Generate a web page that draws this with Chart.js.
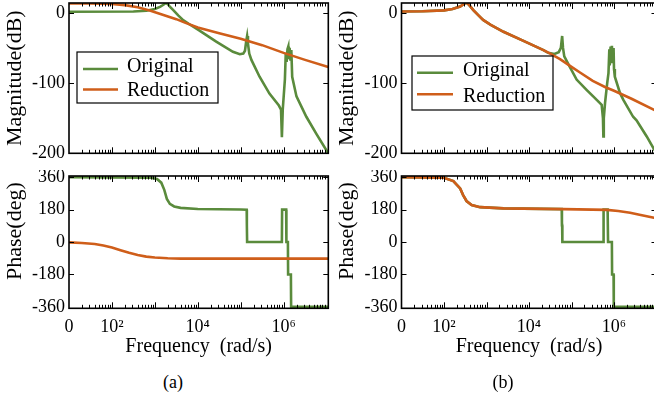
<!DOCTYPE html>
<html>
<head>
<meta charset="utf-8">
<script src="https://cdn.jsdelivr.net/npm/chart.js@4.4.1/dist/chart.umd.min.js"></script>
<style>
  body { margin: 0; width: 654px; height: 398px; overflow: hidden; background: #fff; position: relative; }
  canvas { position: absolute; }
  .cap { position: absolute; top: 372px; font: 18px "Liberation Serif"; color: #000; transform: translateX(-50%); }
</style>
</head>
<body>
<canvas id="aMag" width="335" height="160" style="left:0;top:0"></canvas>
<canvas id="aPh" width="335" height="195" style="left:0;top:170px"></canvas>
<canvas id="bMag" width="330" height="160" style="left:332px;top:0"></canvas>
<canvas id="bPh" width="330" height="195" style="left:332px;top:170px"></canvas>
<div class="cap" style="left:173px">(a)</div>
<div class="cap" style="left:503px">(b)</div>
<script>
const FONT = '"Liberation Serif", serif'
const GREEN = '#5a8b3c'
const ORANGE = '#cf5e1a'

const seriesNames = ['Original', 'Reduction']
const xTickValues = [1e1, 1e2, 1e4, 1e6]
const xTickLabels = ['0', '10²', '10⁴', '10⁶']
const magTicks = [0, -100, -200]
const phaseTicks = [360, 180, 0, -180, -360]

// points are [log10(omega), value]
const aOrigMag = [[1.0, 1.5], [2.5, 2], [2.8, 3], [3.0, 5.5], [3.12, 8.5], [3.2, 11.5], [3.26, 14], [3.3, 12.5],
  [3.36, 8], [3.43, 3.8], [3.55, -4], [3.66, -10.4], [3.85, -18], [4.05, -25.6], [4.43, -41], [4.82, -55.5],
  [4.98, -59], [5.06, -58], [5.1, -54], [5.13, -40], [5.15, -33], [5.17, -44], [5.2, -58], [5.25, -67],
  [5.44, -91], [5.67, -115], [5.89, -132], [5.94, -138], [5.96, -177], [5.98, -138], [6.03, -95], [6.05, -58],
  [6.07, -70], [6.09, -52], [6.11, -48], [6.12, -66], [6.14, -50], [6.16, -68], [6.18, -53], [6.2, -91],
  [6.3, -119], [6.53, -148], [6.76, -172], [7.04, -200]]
const aRedMag = [[1.0, 13.5], [1.5, 13.3], [2.0, 12.5], [2.3, 11], [2.6, 8], [2.9, 3], [3.2, -3], [3.5, -9],
  [3.7, -14], [4.0, -21], [4.5, -29], [5.0, -37], [5.5, -46], [6.0, -57], [6.5, -67], [7.04, -77]]
const aOrigPh = [[1.0, 360], [2.9, 358], [3.05, 350], [3.15, 330], [3.22, 290], [3.28, 240], [3.35, 212],
  [3.45, 198], [3.6, 190], [4.0, 184], [5.0, 181], [5.14, 180], [5.142, 94], [5.146, 94], [5.15, 0],
  [5.96, 0], [5.965, 180], [6.06, 180], [6.065, 0], [6.1, 0], [6.105, -180], [6.17, -180], [6.175, -360],
  [7.04, -360]]
const aRedPh = [[1.0, -2], [1.3, -5], [1.6, -11], [1.8, -19], [2.0, -30], [2.2, -45], [2.4, -60], [2.6, -72],
  [2.8, -81], [3.0, -86], [3.3, -90], [3.6, -92], [7.04, -92]]

const bOrigMag = [[1.0, 2], [1.5, 2.2], [2.0, 3.5], [2.2, 5.5], [2.38, 9], [2.48, 13], [2.53, 14.5], [2.58, 12],
  [2.69, 4], [2.8, -3], [2.92, -10], [3.1, -17], [3.4, -27], [3.87, -40], [4.34, -53], [4.45, -57],
  [4.6, -58.5], [4.7, -56], [4.75, -50], [4.78, -33], [4.8, -50], [4.83, -62], [4.96, -77], [5.12, -95],
  [5.36, -110], [5.51, -119], [5.71, -131], [5.74, -150], [5.75, -176], [5.76, -150], [5.79, -128],
  [5.84, -100], [5.87, -86], [5.89, -52], [5.9, -75], [5.92, -48], [5.94, -70], [5.95, -47], [5.97, -68],
  [5.99, -50], [6.0, -80], [6.02, -91], [6.14, -114], [6.22, -124], [6.45, -148], [6.53, -153],
  [6.77, -176], [6.92, -192], [7.0, -200]]
const bRedMag = [[1.0, 2], [1.5, 2.2], [2.0, 3.5], [2.2, 5.5], [2.38, 9], [2.48, 13], [2.53, 14.5], [2.58, 12],
  [2.69, 4], [2.8, -3], [2.92, -10], [3.1, -17], [3.4, -27], [3.87, -40], [4.34, -53], [4.5, -58],
  [4.73, -66], [5.0, -77], [5.2, -85], [5.5, -97], [5.8, -106], [6.0, -111], [6.4, -122], [6.92, -137.5],
  [7.0, -140]]
const bOrigPh = [[1.0, 360], [1.98, 358], [2.22, 339], [2.38, 298], [2.45, 261], [2.53, 228], [2.65, 206],
  [2.85, 194], [3.4, 187], [4.77, 183], [4.775, 94], [4.78, 94], [4.785, 0], [5.75, 0], [5.755, 180],
  [5.85, 180], [5.86, 0], [5.95, 0], [5.955, -180], [5.99, -180], [5.995, -360], [7.0, -360]]
const bRedPh = [[1.0, 360], [1.98, 358], [2.22, 339], [2.38, 298], [2.45, 261], [2.53, 228], [2.65, 206],
  [2.85, 194], [3.4, 187], [4.81, 183], [5.83, 179], [6.1, 173], [6.38, 163], [6.6, 152], [6.94, 135],
  [7.0, 131]]

const toXY = pts => pts.map(([lw, v]) => ({ x: Math.pow(10, lw), y: v }))

function logTicks(min, max) {
  const out = []
  for (let e = 1; e <= 7; e++) {
    for (let m = 1; m <= 9; m++) {
      const v = m * Math.pow(10, e)
      if (v >= min && v <= max) out.push({ value: v, major: m === 1 })
    }
  }
  return out
}

function noPad(s) {
  s.paddingTop = 0
  s.paddingBottom = 0
  s.paddingLeft = 0
  s.paddingRight = 0
}

// box with inward ticks, like the matlab axes
const frameTicks = {
  id: 'frameTicks',
  afterDraw(chart) {
    const { ctx, chartArea: a, scales } = chart
    ctx.save()
    ctx.strokeStyle = '#000'
    ctx.lineWidth = 1
    ctx.beginPath()
    scales.x.ticks.forEach(t => {
      const px = Math.round(scales.x.getPixelForValue(t.value)) + 0.5
      if (px <= a.left + 1 || px >= a.right - 1) return
      const len = t.major ? 6 : 3.5
      ctx.moveTo(px, a.bottom); ctx.lineTo(px, a.bottom - len)
      ctx.moveTo(px, a.top); ctx.lineTo(px, a.top + len)
    })
    scales.y.ticks.forEach(t => {
      const py = Math.round(scales.y.getPixelForValue(t.value)) + 0.5
      if (py <= a.top + 1 || py >= a.bottom - 1) return
      ctx.moveTo(a.left, py); ctx.lineTo(a.left + 5, py)
      ctx.moveTo(a.right, py); ctx.lineTo(a.right - 5, py)
    })
    ctx.stroke()
    ctx.lineWidth = 1.6
    ctx.strokeRect(a.left, a.top, a.right - a.left, a.bottom - a.top)
    ctx.restore()
  }
}

const boxLegend = {
  id: 'boxLegend',
  afterDraw(chart, args, o) {
    const { ctx } = chart
    ctx.save()
    ctx.fillStyle = '#fff'
    ctx.fillRect(o.x, o.y, o.w, o.h)
    ctx.strokeStyle = '#000'
    ctx.lineWidth = 1.2
    ctx.strokeRect(o.x, o.y, o.w, o.h)
    ctx.font = '20px ' + FONT
    ctx.textBaseline = 'middle'
    chart.data.datasets.forEach((ds, i) => {
      ctx.strokeStyle = ds.borderColor
      ctx.lineWidth = 2.6
      ctx.beginPath()
      ctx.moveTo(o.x0, o.lineY[i]); ctx.lineTo(o.x1, o.lineY[i])
      ctx.stroke()
      ctx.fillStyle = '#000'
      ctx.fillText(ds.label, o.tx, o.textY[i])
    })
    ctx.restore()
  }
}

function panel(id, orig, red, o) {
  new Chart(document.getElementById(id), {
    type: 'line',
    data: {
      datasets: [
        { label: seriesNames[0], data: toXY(orig), borderColor: GREEN, order: 1 },
        { label: seriesNames[1], data: toXY(red), borderColor: ORANGE, order: 0 }
      ]
    },
    options: {
      responsive: false,
      animation: false,
      devicePixelRatio: 1,
      elements: { line: { borderWidth: 2.6, tension: 0 }, point: { radius: 0 } },
      layout: { padding: o.pad },
      plugins: { legend: { display: false }, tooltip: { enabled: false }, boxLegend: o.legend || false },
      scales: {
        x: {
          type: 'logarithmic', min: 10, max: o.xMax,
          afterBuildTicks: s => { s.ticks = logTicks(10, o.xMax) },
          afterFit: s => { s.height = o.xH; noPad(s) },
          grid: { display: false, drawTicks: false },
          border: { display: false },
          ticks: {
            display: o.showX, autoSkip: false, maxRotation: 0, padding: 8,
            font: { family: FONT, size: 18 }, color: '#000',
            callback: v => { const i = xTickValues.indexOf(v); return i < 0 ? '' : xTickLabels[i] }
          },
          title: {
            display: o.showX, text: 'Frequency  (rad/s)', color: '#000',
            font: { family: FONT, size: 20 }, padding: { top: 0, bottom: 6 }
          }
        },
        y: {
          min: o.yMin, max: o.yMax,
          afterBuildTicks: s => { s.ticks = o.yTicks.map(v => ({ value: v })) },
          afterFit: s => { s.width = o.yW; noPad(s) },
          grid: { display: false, drawTicks: false },
          border: { display: false },
          ticks: { padding: 4, font: { family: FONT, size: 18 }, color: '#000', callback: v => String(v) },
          title: {
            display: true, text: o.yTitle, color: '#000',
            font: { family: FONT, size: 22 }, padding: { top: 2, bottom: 0 }
          }
        }
      }
    },
    plugins: [frameTicks, boxLegend]
  })
}

// leading spaces push the rotated phase title up a little, as in the source figure
panel('aMag', aOrigMag, aRedMag, {
  xMax: 1.1e7, xH: 0, showX: false, yW: 69, yMin: -200, yMax: 14, yTicks: magTicks, yTitle: 'Magnitude(dB)',
  pad: { top: 3, right: 6.7, bottom: 6.7, left: 0 },
  legend: { x: 77, y: 52, w: 141, h: 51, x0: 83, x1: 118, tx: 127, lineY: [69, 89.5], textY: [67, 91] }
})
panel('aPh', aOrigPh, aRedPh, {
  xMax: 1.1e7, xH: 56.7, showX: true, yW: 69, yMin: -368, yMax: 367, yTicks: phaseTicks, yTitle: '    Phase(deg)',
  pad: { top: 6, right: 6.7, bottom: 0, left: 0 }
})
panel('bMag', bOrigMag, bRedMag, {
  xMax: 1e7, xH: 0, showX: false, yW: 69.5, yMin: -200, yMax: 14, yTicks: magTicks, yTitle: 'Magnitude(dB)',
  pad: { top: 3, right: 5.5, bottom: 6.7, left: 0 },
  legend: { x: 80, y: 56, w: 141, h: 54, x0: 85, x1: 121, tx: 131, lineY: [72.7, 94.3], textY: [71, 96.5] }
})
panel('bPh', bOrigPh, bRedPh, {
  xMax: 1e7, xH: 56.7, showX: true, yW: 69.5, yMin: -368, yMax: 367, yTicks: phaseTicks, yTitle: '    Phase(deg)',
  pad: { top: 6, right: 5.5, bottom: 0, left: 0 }
})
</script>
</body>
</html>
